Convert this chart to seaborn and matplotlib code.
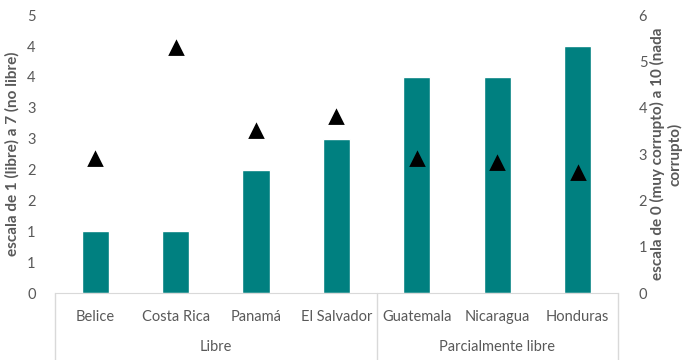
import numpy as np
import pandas as pd
import matplotlib
matplotlib.use("Agg")
import matplotlib.pyplot as plt
import seaborn as sns

# data
paises = ["Belice", "Costa Rica", "Panamá", "El Salvador", "Guatemala", "Nicaragua", "Honduras"]
grupos = ["Libre", "Libre", "Libre", "Libre", "Parcialmente libre", "Parcialmente libre", "Parcialmente libre"]
libertad = [1.0, 1.0, 2.0, 2.5, 3.5, 3.5, 4.0]          # barras, eje izquierdo
corrupcion = [2.9, 5.3, 3.5, 3.8, 2.9, 2.8, 2.6]        # triangulos, eje derecho

df = pd.DataFrame({"pais": paises, "grupo": grupos,
                   "libertad": libertad, "corrupcion": corrupcion})

sns.set_style("white")
plt.rcParams["font.family"] = ["Lato", "DejaVu Sans"]
gris = "#595959"

fig = plt.figure(figsize=(6.88, 3.6), dpi=100)
ax = fig.add_axes([0.080, 0.186, 0.818, 0.772])

sns.barplot(data=df, x="pais", y="libertad", order=paises, color="#008080",
            saturation=1, width=0.34, ax=ax)
ax.set_ylim(0, 4.5)
yt = np.arange(0, 4.51, 0.5)
ax.set_yticks(yt)
ax.set_yticklabels([str(int(np.floor(v + 0.5))) for v in yt])
ax.set_xlim(-0.5, 6.5)
ax.set_xlabel("")
ax.set_ylabel("escala de 1 (libre) a 7 (no libre)", fontsize=11, fontweight="bold",
              color=gris, labelpad=5)
ax.tick_params(axis="both", length=0, labelsize=10.5, colors=gris)
ax.tick_params(axis="y", pad=14)
ax.tick_params(axis="x", pad=12)
for s in ["left", "right", "top"]:
    ax.spines[s].set_visible(False)
ax.spines["bottom"].set_color("#d9d9d9")

ax2 = ax.twinx()
sns.pointplot(data=df, x="pais", y="corrupcion", order=paises, color="black",
              markers="^", linestyles="none", markersize=9, ax=ax2)
ax2.set_ylim(0, 6)
ax2.set_yticks(range(0, 7))
ax2.set_xlim(-0.5, 6.5)
ax2.set_ylabel("escala de 0 (muy corrupto) a 10 (nada\ncorrupto)", fontsize=11,
               fontweight="bold", color=gris, labelpad=2)
ax2.tick_params(axis="y", length=0, labelsize=10.5, colors=gris, pad=15)
for s in ["left", "right", "top", "bottom"]:
    ax2.spines[s].set_visible(False)

# etiquetas de grupo (eje de categorias en dos niveles)
tr = ax.get_xaxis_transform()
for xv in [-0.5, 3.5, 6.5]:
    ax.plot([xv, xv], [0, -0.245], transform=tr, color="#d9d9d9", lw=1, clip_on=False)
for nombre in ["Libre", "Parcialmente libre"]:
    idx = [i for i, g in enumerate(grupos) if g == nombre]
    ax.text(np.mean(idx), -0.195, nombre, transform=tr, ha="center", va="center",
            fontsize=10.5, color=gris)

fig.savefig("out.png", dpi=100)
